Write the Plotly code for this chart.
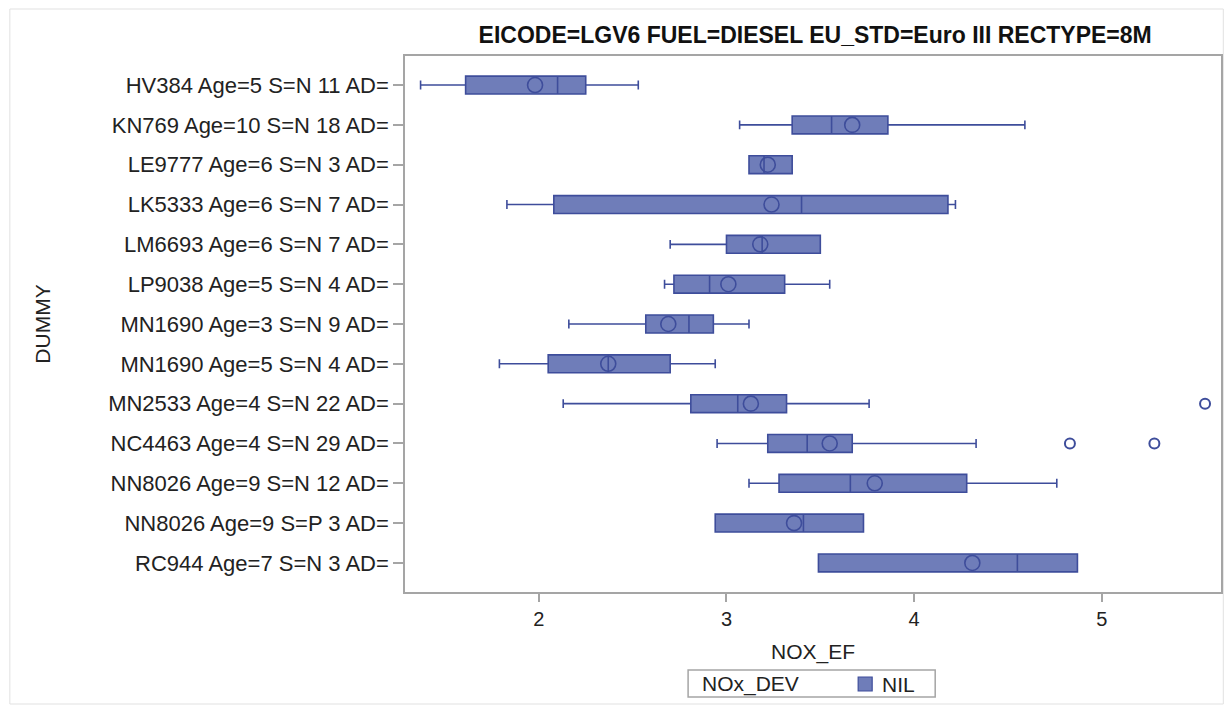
import plotly.graph_objects as go

categories = [
    "HV384 Age=5 S=N 11 AD=",
    "KN769 Age=10 S=N 18 AD=",
    "LE9777 Age=6 S=N 3 AD=",
    "LK5333 Age=6 S=N 7 AD=",
    "LM6693 Age=6 S=N 7 AD=",
    "LP9038 Age=5 S=N 4 AD=",
    "MN1690 Age=3 S=N 9 AD=",
    "MN1690 Age=5 S=N 4 AD=",
    "MN2533 Age=4 S=N 22 AD=",
    "NC4463 Age=4 S=N 29 AD=",
    "NN8026 Age=9 S=N 12 AD=",
    "NN8026 Age=9 S=P 3 AD=",
    "RC944 Age=7 S=N 3 AD=",
]
lower_whisker = [1.37, 3.07, 3.12, 1.83, 2.70, 2.67, 2.16, 1.79, 2.13, 2.95, 3.12, 2.94, 3.49]
q1_vals = [1.61, 3.35, 3.12, 2.08, 3.00, 2.72, 2.57, 2.05, 2.81, 3.22, 3.28, 2.94, 3.49]
median_vals = [2.10, 3.56, 3.20, 3.40, 3.19, 2.91, 2.80, 2.37, 3.06, 3.43, 3.66, 3.41, 4.55]
q3_vals = [2.25, 3.86, 3.35, 4.18, 3.50, 3.31, 2.93, 2.70, 3.32, 3.67, 4.28, 3.73, 4.87]
upper_whisker = [2.53, 4.59, 3.35, 4.22, 3.50, 3.55, 3.12, 2.94, 3.76, 4.33, 4.76, 3.73, 4.87]
mean_vals = [1.98, 3.67, 3.22, 3.24, 3.18, 3.01, 2.69, 2.37, 3.13, 3.55, 3.79, 3.36, 4.31]

outlier_cats = ["MN2533 Age=4 S=N 22 AD=", "NC4463 Age=4 S=N 29 AD=", "NC4463 Age=4 S=N 29 AD="]
outlier_vals = [5.55, 4.83, 5.28]

x_ticks = [2, 3, 4, 5]
legend_title = "NOx_DEV"
legend_label = "NIL"

FILL = "rgb(111,125,185)"
LINE = "rgb(62,77,155)"
AXIS = "rgb(165,165,165)"
FONT = "Liberation Sans, Arial, sans-serif"

fig = go.Figure()
fig.add_trace(go.Box(
    y=categories,
    q1=q1_vals, median=median_vals, q3=q3_vals,
    lowerfence=lower_whisker, upperfence=upper_whisker,
    orientation="h",
    name=legend_label,
    fillcolor=FILL,
    line=dict(color=LINE, width=1.6),
    width=0.45,
    whiskerwidth=0.5,
    boxpoints=False,
    showlegend=False,
))
fig.add_trace(go.Scatter(
    x=mean_vals, y=categories, mode="markers",
    marker=dict(symbol="circle-open", size=15, color=LINE, line=dict(width=1.6, color=LINE)),
    showlegend=False,
))
fig.add_trace(go.Scatter(
    x=outlier_vals, y=outlier_cats, mode="markers",
    marker=dict(symbol="circle-open", size=10, color=LINE, line=dict(width=2, color=LINE)),
    showlegend=False,
))

L, R, T, B = 405, 1220.7, 56, 592
W, H = 1225, 706

def px(x):
    return (x - L) / (R - L)

def py(y):
    return (B - y) / (B - T)

shapes = [
    # outer frame of the picture
    dict(type="rect", xref="paper", yref="paper",
         x0=px(10), x1=px(1223), y0=py(704), y1=py(9),
         line=dict(color="rgb(225,225,225)", width=1), layer="below"),
    # legend frame
    dict(type="rect", xref="paper", yref="paper",
         x0=px(688), x1=px(935), y0=py(697), y1=py(670),
         line=dict(color=AXIS, width=1.5), fillcolor="white"),
    # legend swatch
    dict(type="rect", xref="paper", yref="paper",
         x0=px(858), x1=px(872), y0=py(691), y1=py(677),
         line=dict(color=LINE, width=1.2), fillcolor=FILL),
]

annotations = [
    dict(text=legend_title, xref="paper", yref="paper", x=px(700), y=py(684),
         xanchor="left", yanchor="middle", showarrow=False,
         font=dict(family=FONT, size=21, color="#222")),
    dict(text=legend_label, xref="paper", yref="paper", x=px(880), y=py(684),
         xanchor="left", yanchor="middle", showarrow=False,
         font=dict(family=FONT, size=21, color="#222")),
]

fig.update_layout(
    width=W, height=H,
    margin=dict(l=L, r=W - R, t=T, b=H - B, pad=0, autoexpand=False),
    paper_bgcolor="white", plot_bgcolor="white",
    font=dict(family=FONT, size=21, color="#222"),
    showlegend=False,
    title=dict(
        text="<b>EICODE=LGV6 FUEL=DIESEL EU_STD=Euro III RECTYPE=8M</b>",
        x=px(815), xanchor="center", xref="paper",
        y=1 - 35 / H, yanchor="middle",
        font=dict(family=FONT, size=23, color="#111"),
    ),
    xaxis=dict(
        range=[1.287, 5.635],
        tickvals=x_ticks,
        ticks="outside", ticklen=8, tickcolor=AXIS, tickwidth=1.5,
        showline=True, linecolor=AXIS, linewidth=1.5, mirror=True,
        showgrid=False, zeroline=False,
        tickfont=dict(size=20, color="#222"),
        title=dict(text="NOX_EF", font=dict(size=21, color="#222"), standoff=16),
    ),
    yaxis=dict(
        type="category",
        categoryorder="array", categoryarray=categories,
        range=[len(categories) - 1 + 0.73, -0.73],
        ticks="outside", ticklen=10, tickcolor=AXIS, tickwidth=1.5,
        showline=True, linecolor=AXIS, linewidth=1.5, mirror=True,
        showgrid=False, zeroline=False,
        tickfont=dict(size=22, color="#222"),
        title=dict(text="DUMMY", font=dict(size=21, color="#222"), standoff=52),
    ),
    shapes=shapes,
    annotations=annotations,
)

fig.write_html("out.html", config={"displayModeBar": False},
               post_script="document.body.style.margin='0px';document.body.style.padding='0px';")
